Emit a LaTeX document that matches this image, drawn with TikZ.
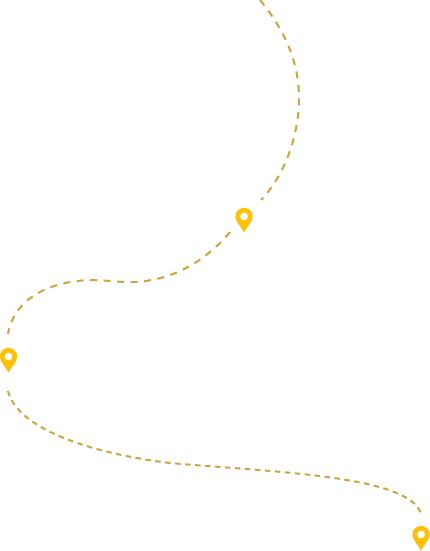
\documentclass[tikz,border=0pt]{standalone}
\tikzset{
  route/.style={draw=routecol,line width=2pt,dash pattern=on 7pt off 6.5pt},
  routefine/.style={draw=routecol,line width=2pt,dash pattern=on 5.5pt off 4.5pt},
  pinmark/.pic={
    \fill[pincol,even odd rule] (0,15.5) .. controls (-2,11) and (-8.7,5) .. (-8.7,-0.5)
      arc[start angle=180,end angle=360,radius=8.7]
      .. controls (8.7,5) and (2,11) .. (0,15.5) -- cycle
      (0,-0.5) circle[radius=4];
  }
}
\definecolor{routecol}{HTML}{CBA63C}
\definecolor{pincol}{HTML}{FFC107}
\begin{document}
\begin{tikzpicture}[x=1pt,y=-1pt]
\useasboundingbox (0,0) rectangle (429,551);
\fill[white] (0,0) rectangle (429,551);
\draw[route] (260,0) .. controls (283,28) and (299,60) .. (299,98)
  .. controls (299,135) and (285,175) .. (261,200);
\draw[route] (230,232) .. controls (205,262) and (170,282) .. (130,282)
  .. controls (115,282) and (105,280) .. (92,280)
  .. controls (45,281) and (13,302) .. (8,334);
\draw[routefine] (8,391) .. controls (16,425) and (80,452) .. (170,463)
  .. controls (270,472) and (410,475) .. (421,514);
\pic at (244,217) {pinmark};
\pic at (8.5,357) {pinmark};
\pic at (421,535) {pinmark};
\end{tikzpicture}
\end{document}
